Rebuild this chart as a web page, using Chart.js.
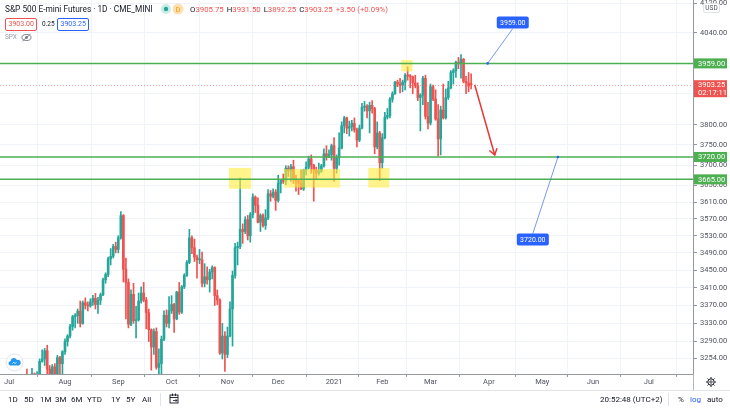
<!DOCTYPE html>
<html>
<head>
<meta charset="utf-8">
<script src="https://cdn.jsdelivr.net/npm/chart.js@4.4.1/dist/chart.umd.min.js"></script>
<style>
html, body { margin: 0; padding: 0; background: #fff; }
#wrap { position: relative; width: 730px; height: 410px; overflow: hidden; font-family: Roboto, "Noto Sans", sans-serif; color: #131722; }
#chart { position: absolute; left: 0; top: 0; }
.abs { position: absolute; white-space: nowrap; }
.title { left: 5px; top: 3px; font-size: 8.3px; line-height: 12px; }
.ohlc { left: 190px; top: 4px; font-size: 7.8px; line-height: 11px; color: #131722; }
.ohlc b { font-weight: normal; color: #ef5350; margin-right: 3px; }
.box { top: 18px; height: 11px; font-size: 7px; line-height: 11px; padding: 0 2.5px; border-radius: 2px; }
.tb { top: 394px; font-size: 8px; line-height: 11px; color: #131722; }
</style>
</head>
<body>
<div id="wrap">
  <canvas id="chart" width="730" height="410"></canvas>

  <div class="abs title">S&amp;P 500 E-mini Futures · 1D · CME_MINI</div>
  <svg class="abs" style="left:160px;top:3px" width="26" height="12">
    <circle cx="6" cy="6" r="5" fill="#c8ece6"/><circle cx="6" cy="6" r="2.2" fill="#26a69a"/>
    <circle cx="18" cy="6" r="5.5" fill="#ffe0b2"/>
    <text x="18" y="8.8" font-size="7.5" text-anchor="middle" fill="#ff9800" font-family="Roboto">D</text>
  </svg>
  <div class="abs ohlc">O<b>3905.75</b>H<b>3931.50</b>L<b>3892.25</b>C<b>3903.25</b><b>+3.50 (+0.09%)</b></div>

  <div class="abs box" style="left:5px;border:1px solid #ef5350;color:#ef5350">3903.00</div>
  <div class="abs" style="left:42px;top:19px;font-size:6.5px;line-height:11px;color:#131722">0.25</div>
  <div class="abs box" style="left:57px;border:1px solid #2962ff;color:#2962ff">3903.25</div>

  <div class="abs" style="left:5px;top:33px;font-size:6.5px;line-height:9px;color:#9598a1">SPX</div>
  <svg class="abs" style="left:21px;top:33px" width="11" height="9">
    <ellipse cx="5.5" cy="4.5" rx="4.5" ry="3" fill="none" stroke="#787b86" stroke-width="1"/>
    <circle cx="5.5" cy="4.5" r="1.4" fill="#787b86"/>
    <line x1="1.5" y1="8" x2="9.5" y2="1" stroke="#787b86" stroke-width="0.9"/>
  </svg>

  <svg class="abs" style="left:5px;top:353px" width="19" height="19">
    <circle cx="9.5" cy="9.5" r="8.5" fill="#fff" stroke="#dfe3ec"/>
    <path d="M5 12.5 a2.4 2.4 0 0 1 0.6-4.6 a3.3 3.3 0 0 1 6.3-0.8 a2.6 2.6 0 0 1 1.9 5.4 z" fill="#2196f3"/>
    <path d="M7.5 10.5 l1.3 -1.3 l1.3 1.3 l1.3 -1.3" stroke="#fff" stroke-width="0.9" fill="none"/>
  </svg>

  <div class="abs tb" style="left:8px">1D</div>
  <div class="abs tb" style="left:24px">5D</div>
  <div class="abs tb" style="left:40px">1M</div>
  <div class="abs tb" style="left:55px">3M</div>
  <div class="abs tb" style="left:71px">6M</div>
  <div class="abs tb" style="left:87px">YTD</div>
  <div class="abs tb" style="left:111px">1Y</div>
  <div class="abs tb" style="left:126px">5Y</div>
  <div class="abs tb" style="left:142px">All</div>
  <div class="abs" style="left:160px;top:393px;width:1px;height:13px;background:#e0e3eb"></div>
  <svg class="abs" style="left:169px;top:393px" width="11" height="12">
    <rect x="1" y="2" width="8" height="8" fill="none" stroke="#131722" stroke-width="0.9"/>
    <line x1="1" y1="4.5" x2="9" y2="4.5" stroke="#131722" stroke-width="0.9"/>
    <line x1="3.5" y1="0.5" x2="3.5" y2="3" stroke="#131722" stroke-width="0.9"/>
    <line x1="6.5" y1="0.5" x2="6.5" y2="3" stroke="#131722" stroke-width="0.9"/>
    <path d="M4 7.5 h4 M6.5 6 l1.5 1.5 l-1.5 1.5" stroke="#131722" stroke-width="0.8" fill="none"/>
  </svg>
  <div class="abs tb" style="left:600px">20:52:48 (UTC+2)</div>
  <div class="abs" style="left:668px;top:393px;width:1px;height:13px;background:#e0e3eb"></div>
  <div class="abs tb" style="left:678px">%</div>
  <div class="abs tb" style="left:690px;color:#2962ff">log</div>
  <div class="abs tb" style="left:707px">auto</div>
  <svg class="abs" style="left:705px;top:376px" width="12" height="12">
    <circle cx="6" cy="6" r="3.2" fill="none" stroke="#131722" stroke-width="1"/>
    <circle cx="6" cy="6" r="1.2" fill="none" stroke="#131722" stroke-width="0.8"/>
    <path d="M6 1 v1.6 M6 9.4 v1.6 M1 6 h1.6 M9.4 6 h1.6 M2.5 2.5 l1.1 1.1 M8.4 8.4 l1.1 1.1 M2.5 9.5 l1.1 -1.1 M8.4 3.6 l1.1 -1.1" stroke="#131722" stroke-width="1"/>
  </svg>
</div>

<script>
// daily candles, 1 Jul 2020 .. 23 Mar 2021 (one value per trading day)
const opens = [
  3095,3112,3126,3175,3141,3164,3147,3178,3150,3190,3220,3210,3218,3247,3252,3270,3230,3211,3235,3214,3255,3242,
  3268,3290,3302,3323,3345,3347,3357,3330,3376,3370,3369,3378,3386,3372,3382,3394,3428,3440,3476,3482,3505,
  3498,3525,3578,3452,3422,3328,3395,3336,3338,3380,3398,3382,3354,3316,3278,3312,3234,3242,3295,3348,3330,
  3358,3372,3340,3400,3355,3412,3438,3468,3525,3502,3480,3474,3474,3420,3435,3428,3446,3456,3392,3382,3265,3302,
  3262,3302,3362,3438,3502,3505,3545,3540,3568,3530,3580,3622,3602,3562,3578,3554,3572,3630,3624,3634,
  3614,3655,3662,3660,3692,3686,3696,3665,3662,3656,3642,3688,3695,3715,3700,3688,3680,3685,3698,3728,3720,3726,
  3748,3692,3718,3742,3798,3818,3792,3796,3804,3788,3762,3792,3845,3848,3836,3850,3842,3745,3780,
  3706,3768,3820,3824,3866,3880,3910,3905,3902,3910,3928,3926,3924,3908,3900,3870,3876,3920,3822,
  3805,3898,3866,3815,3765,3838,3818,3870,3895,3935,3940,3962,3958,3970,3912,3908,3905.75
];
const highs = [
  3122,3158,3180,3182,3166,3175,3180,3230,3192,3232,3222,3225,3252,3272,3275,3282,3238,3240,3242,3260,3258,3270,
  3296,3305,3328,3348,3352,3362,3380,3380,3387,3378,3385,3393,3397,3388,3398,3432,3444,3480,3500,3510,3515,
  3530,3587,3580,3478,3430,3405,3420,3368,3398,3412,3422,3388,3362,3318,3318,3320,3274,3302,3358,3360,3390,
  3392,3375,3402,3422,3415,3442,3472,3545,3530,3522,3485,3498,3492,3465,3458,3452,3460,3458,3405,3385,3330,3312,
  3322,3378,3448,3512,3515,3668,3558,3575,3578,3585,3630,3625,3620,3582,3582,3592,3640,3638,3642,3640,
  3675,3665,3678,3698,3698,3702,3712,3675,3664,3688,3690,3708,3722,3725,3702,3695,3705,3702,3740,3748,3738,3752,
  3768,3725,3780,3808,3822,3820,3810,3812,3818,3792,3800,3855,3860,3852,3858,3862,3845,3808,3784,
  3778,3832,3842,3870,3885,3912,3915,3920,3915,3932,3950,3930,3926,3928,3908,3880,3925,3928,3858,
  3905,3902,3890,3852,3848,3905,3892,3912,3940,3945,3965,3975,3982,3972,3925,3935,3931.5
];
const lows = [
  3087,3110,3124,3139,3132,3118,3128,3148,3128,3185,3192,3205,3200,3245,3238,3220,3196,3205,3210,3212,3208,3215,
  3262,3280,3298,3315,3320,3330,3322,3328,3362,3358,3366,3370,3362,3352,3372,3392,3420,3435,3462,3478,3490,
  3490,3522,3423,3340,3320,3325,3330,3298,3335,3375,3378,3318,3290,3228,3262,3230,3212,3220,3292,3322,3320,
  3352,3310,3338,3350,3352,3408,3436,3465,3488,3470,3432,3465,3412,3412,3418,3400,3430,3370,3372,3262,3252,3225,
  3255,3300,3280,3432,3462,3500,3512,3535,3520,3515,3572,3585,3560,3540,3550,3545,3568,3612,3620,3590,
  3610,3632,3655,3652,3672,3660,3655,3636,3628,3640,3638,3676,3690,3680,3612,3665,3675,3682,3695,3712,3718,3712,
  3660,3680,3700,3740,3780,3778,3772,3785,3782,3745,3758,3790,3835,3818,3780,3830,3728,3740,3662,
  3692,3765,3815,3818,3858,3878,3898,3882,3885,3890,3915,3895,3880,3895,3862,3785,3852,3815,3790,
  3800,3862,3812,3722,3725,3815,3815,3865,3892,3905,3922,3945,3920,3908,3880,3885,3892.25
];
const closes = [
  3112,3126,3175,3141,3164,3147,3178,3150,3190,3220,3210,3218,3247,3252,3270,3230,3211,3235,3214,3255,3242,3268,
  3290,3302,3323,3345,3347,3357,3330,3376,3370,3369,3378,3386,3372,3382,3394,3428,3440,3476,3482,3505,3498,
  3525,3578,3452,3422,3328,3395,3336,3338,3380,3398,3382,3354,3316,3278,3312,3234,3242,3295,3348,3330,3358,
  3372,3340,3400,3355,3412,3438,3468,3525,3502,3480,3474,3474,3420,3435,3428,3446,3456,3392,3382,3265,3302,3262,
  3302,3362,3438,3502,3505,3545,3540,3568,3530,3580,3622,3602,3562,3578,3554,3572,3630,3624,3634,3614,
  3655,3662,3660,3692,3686,3696,3665,3662,3656,3642,3688,3695,3715,3700,3688,3680,3685,3698,3728,3720,3726,3748,
  3692,3718,3742,3798,3818,3792,3796,3804,3788,3762,3792,3845,3848,3836,3850,3842,3745,3780,3706,
  3768,3820,3824,3866,3880,3910,3905,3902,3910,3928,3926,3924,3908,3900,3870,3876,3920,3822,3805,
  3898,3866,3815,3765,3838,3818,3870,3895,3935,3940,3962,3958,3970,3912,3908,3899.75,3903.25
];

// x axis: bar index of the first trading day of each month
const monthIdx = [0, 22, 43, 64, 86, 106, 128, 147, 166, 189, 210, 230, 252];
const monthLabels = ['Jul', 'Aug', 'Sep', 'Oct', 'Nov', 'Dec', '2021', 'Feb', 'Mar', 'Apr', 'May', 'Jun', 'Jul'];

// price axis (log)
const priceTicks = [4120, 4040, 3960, 3880, 3800, 3750, 3700, 3650, 3610, 3570, 3530, 3490, 3450, 3410, 3370, 3330, 3290, 3254];
const hiddenTicks = [3960, 3880];

// drawings
const levels = [3959, 3720, 3665];
const zoneBoxes = [[86.6, 95.3, 3642, 3693], [108.3, 130.4, 3645, 3690], [141.5, 149.8, 3645, 3693], [154.5, 158.9, 3938, 3968]];
const arrowPath = [[183.4, 3903], [191.3, 3725]];
const callouts = [
  { anchor: [188.5, 3959], box: [198.4, 4068], text: '3959.00' },
  { anchor: [216.2, 3720], box: [206.3, 3521], text: '3720.00' }
];
const lastPrice = 3903.25;

const upColor = '#26a69a', downColor = '#ef5350', levelColor = '#4caf50';

const barColors = opens.map((o, i) => closes[i] >= o ? upColor : downColor);
const bodyData = opens.map((o, i) => ({ x: i, y: [o, closes[i]] }));
const wickData = lows.map((l, i) => ({ x: i, y: [l, highs[i]] }));

function roundRect(ctx, x, y, w, h, r) {
  ctx.beginPath();
  ctx.moveTo(x + r, y);
  ctx.arcTo(x + w, y, x + w, y + h, r);
  ctx.arcTo(x + w, y + h, x, y + h, r);
  ctx.arcTo(x, y + h, x, y, r);
  ctx.arcTo(x, y, x + w, y, r);
  ctx.closePath();
}

const drawings = {
  id: 'drawings',
  afterDatasetsDraw(chart) {
    const { ctx, chartArea: a, scales: { x, y } } = chart;
    ctx.save();
    ctx.beginPath();
    ctx.rect(a.left, a.top, a.right - a.left, a.bottom - a.top);
    ctx.clip();

    // yellow zones
    ctx.fillStyle = 'rgba(255, 235, 59, 0.6)';
    zoneBoxes.forEach(([i0, i1, p0, p1]) => {
      const x0 = x.getPixelForValue(i0), x1 = x.getPixelForValue(i1);
      const y0 = y.getPixelForValue(p1), y1 = y.getPixelForValue(p0);
      ctx.fillRect(x0, y0, x1 - x0, y1 - y0);
    });

    // last price line
    const yl = Math.round(y.getPixelForValue(lastPrice)) + 0.5;
    ctx.strokeStyle = 'rgba(239, 83, 80, 0.55)';
    ctx.lineWidth = 1;
    ctx.setLineDash([1, 2]);
    ctx.beginPath(); ctx.moveTo(a.left, yl); ctx.lineTo(a.right, yl); ctx.stroke();
    ctx.setLineDash([]);

    // horizontal levels
    ctx.strokeStyle = levelColor;
    ctx.lineWidth = 1.5;
    levels.forEach(p => {
      const yy = y.getPixelForValue(p);
      ctx.beginPath(); ctx.moveTo(a.left, yy); ctx.lineTo(a.right, yy); ctx.stroke();
    });

    // red arrow
    const ax0 = x.getPixelForValue(arrowPath[0][0]), ay0 = y.getPixelForValue(arrowPath[0][1]);
    const ax1 = x.getPixelForValue(arrowPath[1][0]), ay1 = y.getPixelForValue(arrowPath[1][1]);
    const ang = Math.atan2(ay1 - ay0, ax1 - ax0);
    ctx.strokeStyle = '#e53935';
    ctx.lineWidth = 1.5;
    ctx.beginPath(); ctx.moveTo(ax0, ay0); ctx.lineTo(ax1, ay1); ctx.stroke();
    ctx.beginPath();
    ctx.moveTo(ax1 - 7 * Math.cos(ang - 0.6), ay1 - 7 * Math.sin(ang - 0.6));
    ctx.lineTo(ax1, ay1);
    ctx.lineTo(ax1 - 7 * Math.cos(ang + 0.6), ay1 - 7 * Math.sin(ang + 0.6));
    ctx.stroke();

    // blue callouts
    callouts.forEach(c => {
      const px = x.getPixelForValue(c.anchor[0]), py = y.getPixelForValue(c.anchor[1]);
      const bx = x.getPixelForValue(c.box[0]), by = y.getPixelForValue(c.box[1]);
      const w = 32, h = 12;
      const ey = py > by ? by + h / 2 : by - h / 2;
      ctx.strokeStyle = '#5b7ee5';
      ctx.lineWidth = 0.8;
      ctx.beginPath(); ctx.moveTo(bx, ey); ctx.lineTo(px, py); ctx.stroke();
      ctx.fillStyle = '#2962ff';
      ctx.beginPath(); ctx.arc(px, py, 1.3, 0, Math.PI * 2); ctx.fill();
      roundRect(ctx, bx - w / 2, by - h / 2, w, h, 2);
      ctx.fill();
      ctx.fillStyle = '#fff';
      ctx.font = '7px Roboto';
      ctx.textAlign = 'center';
      ctx.textBaseline = 'middle';
      ctx.fillText(c.text, bx, by + 0.5);
    });
    ctx.restore();
  },
  afterDraw(chart) {
    const { ctx, chartArea: a, scales: { y } } = chart;
    ctx.save();
    // axis separator down to the toolbar
    ctx.strokeStyle = '#b2b5be';
    ctx.lineWidth = 1;
    ctx.beginPath(); ctx.moveTo(a.right + 0.5, a.bottom); ctx.lineTo(a.right + 0.5, 390); ctx.stroke();
    ctx.strokeStyle = '#e0e3eb';
    ctx.beginPath(); ctx.moveTo(0, 390.5); ctx.lineTo(730, 390.5); ctx.stroke();

    ctx.font = '7.5px Roboto';
    ctx.textBaseline = 'middle';
    ctx.textAlign = 'left';
    const tag = (p, text, color) => {
      const yy = y.getPixelForValue(p);
      ctx.fillStyle = color;
      ctx.fillRect(a.right + 1, yy - 5, 33, 10);
      ctx.fillStyle = '#fff';
      ctx.fillText(text, a.right + 5, yy + 0.5);
    };
    levels.forEach(p => tag(p, p.toFixed(2), levelColor));

    const yl = y.getPixelForValue(lastPrice);
    ctx.fillStyle = '#ef5350';
    ctx.fillRect(a.right + 1, yl - 4.5, 33, 17);
    ctx.fillStyle = '#fff';
    ctx.fillText(lastPrice.toFixed(2), a.right + 5, yl + 0.5);
    ctx.fillText('02:17:11', a.right + 5, yl + 8);

    // currency box
    ctx.fillStyle = '#fff';
    ctx.strokeStyle = '#e0e3eb';
    roundRect(ctx, 703.5, 3.5, 16, 9, 1.5);
    ctx.fill(); ctx.stroke();
    ctx.fillStyle = '#50535e';
    ctx.font = '6.5px Roboto';
    ctx.textAlign = 'center';
    ctx.fillText('USD', 711.5, 8.5);
    ctx.restore();
  }
};

Chart.defaults.font.family = 'Roboto';

new Chart(document.getElementById('chart').getContext('2d'), {
  type: 'bar',
  data: {
    datasets: [
      { label: 'body', data: bodyData, backgroundColor: barColors, barThickness: 2, minBarLength: 1, grouped: false },
      { label: 'wick', data: wickData, backgroundColor: barColors, barThickness: 1, grouped: false }
    ]
  },
  options: {
    responsive: false,
    animation: false,
    layout: { padding: { left: 0, right: 0, top: 0, bottom: 20 } },
    plugins: { legend: { display: false }, tooltip: { enabled: false } },
    scales: {
      x: {
        type: 'linear',
        min: -3.6,
        max: 269.4,
        offset: false,
        afterBuildTicks: s => { s.ticks = monthIdx.map(v => ({ value: v })); },
        afterFit: s => { s.height = 16; s.paddingLeft = 0; s.paddingRight = 0; },
        ticks: {
          autoSkip: false,
          maxRotation: 0,
          padding: 1,
          color: '#50535e',
          font: { size: 7.5 },
          callback: v => monthLabels[monthIdx.indexOf(v)]
        },
        grid: { color: '#f0f3fa', tickLength: 3, tickColor: '#9598a1' },
        border: { color: '#9598a1' }
      },
      y: {
        type: 'logarithmic',
        position: 'right',
        min: 3219.7,
        max: 4129.6,
        afterBuildTicks: s => { s.ticks = priceTicks.map(v => ({ value: v })); },
        afterFit: s => { s.width = 37; s.paddingTop = 0; s.paddingBottom = 0; },
        ticks: {
          padding: 3,
          color: '#50535e',
          font: { size: 7.5 },
          callback: v => hiddenTicks.includes(v) ? '' : v.toFixed(2)
        },
        grid: { color: '#f0f3fa', tickLength: 4, tickColor: '#9598a1' },
        border: { color: '#9598a1' }
      }
    }
  },
  plugins: [drawings]
});
</script>
</body>
</html>
